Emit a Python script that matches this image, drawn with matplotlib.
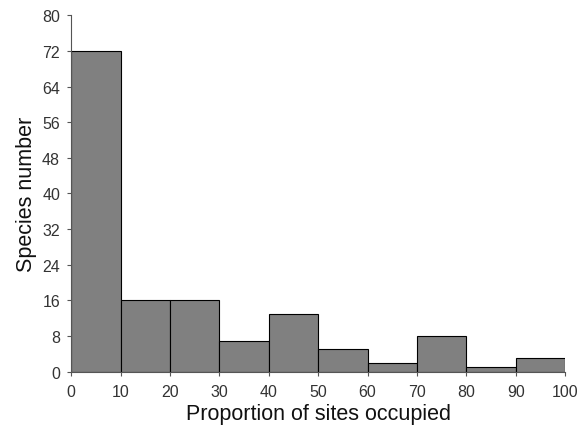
import matplotlib
matplotlib.use("Agg")
import matplotlib.pyplot as plt
import numpy as np

plt.rcParams['font.family'] = ['Liberation Sans', 'DejaVu Sans']

bin_edges = [0, 10, 20, 30, 40, 50, 60, 70, 80, 90, 100]
counts = [72, 16, 16, 7, 13, 5, 2, 8, 1, 3]
y_ticks = [0, 8, 16, 24, 32, 40, 48, 56, 64, 72, 80]
x_ticks = [0, 10, 20, 30, 40, 50, 60, 70, 80, 90, 100]

fig = plt.figure(figsize=(5.79, 4.27), dpi=100)
ax = fig.add_axes([0.123, 0.127, 0.853, 0.835])

lefts = bin_edges[:-1]
widths = np.diff(bin_edges)
ax.bar(lefts, counts, width=widths, align='edge', color='#808080',
       edgecolor='black', linewidth=0.8)

ax.set_xlim(0, 100)
ax.set_ylim(0, 80)
ax.set_xticks(x_ticks)
ax.set_yticks(y_ticks)
ax.tick_params(axis='both', labelsize=11.5, direction='out', length=3, width=0.8,
               colors='#555555', labelcolor='#333333')
ax.tick_params(axis='x', pad=6)
ax.tick_params(axis='y', pad=5)
for s in ['top', 'right']:
    ax.spines[s].set_visible(False)
for s in ['left', 'bottom']:
    ax.spines[s].set_color('#555555')
    ax.spines[s].set_linewidth(0.8)

ax.set_xlabel('Proportion of sites occupied', fontsize=15.5, labelpad=3, color='#111111')
ax.set_ylabel('Species number', fontsize=15.5, labelpad=4, color='#111111')

fig.savefig('out.png', dpi=100)
